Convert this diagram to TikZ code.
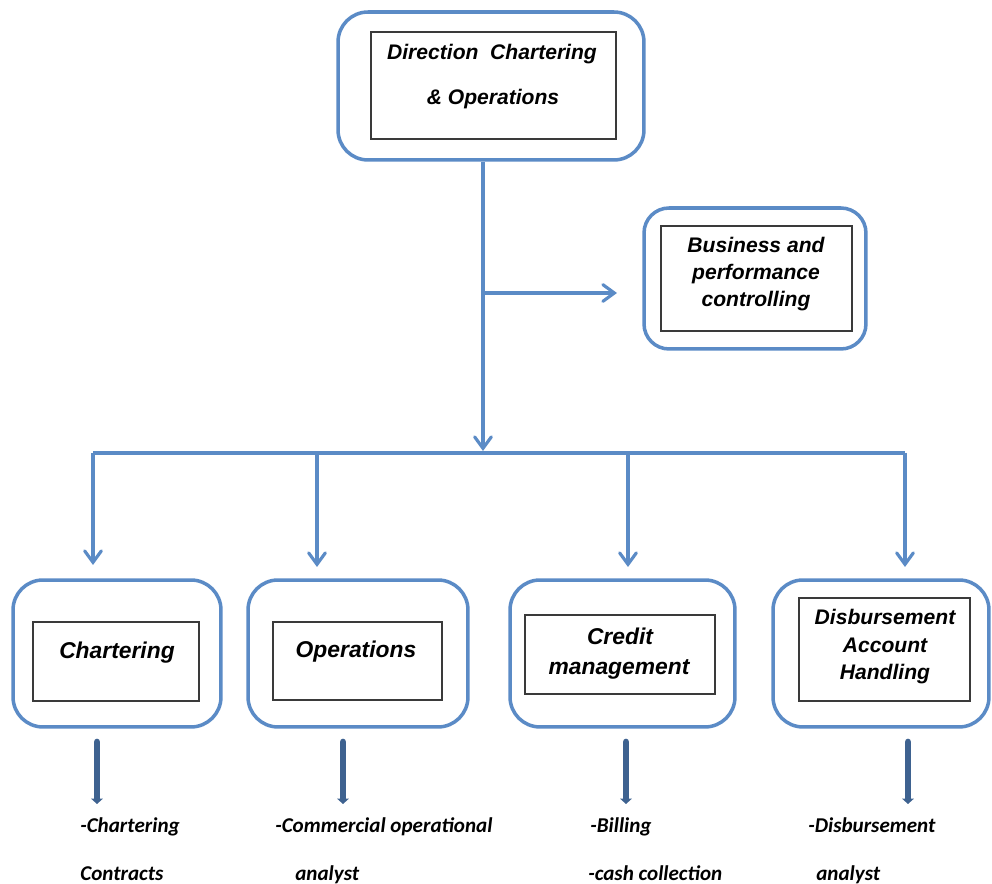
\documentclass[tikz,border=0pt]{standalone}
\usepackage{fontspec}
\setmainfont{Liberation Sans}
\newfontfamily\notefont{Carlito}
\usetikzlibrary{arrows.meta,shadows}
\definecolor{boxblue}{HTML}{5B8BC6}
\definecolor{darkarrow}{HTML}{3E6290}
\definecolor{innerline}{HTML}{3A3A3A}
\tikzset{
  outerbox/.style={draw=boxblue, line width=2pt, rounded corners=0.6cm, inner sep=0pt, fill=white},
  innerbox/.style={draw=innerline, line width=0.8pt, fill=white, inner sep=0pt,
     drop shadow={shadow xshift=0.8pt, shadow yshift=-0.8pt, fill=gray, opacity=0.45}},
  boxtxt/.style={anchor=base, inner sep=0pt, font=\fontsize{12}{14}\selectfont\bfseries\itshape},
  bigtxt/.style={anchor=base, inner sep=0pt, font=\fontsize{13}{15}\selectfont\bfseries\itshape},
  notetxt/.style={anchor=base west, inner sep=0pt, font=\notefont\fontsize{12}{14}\selectfont\bfseries\itshape},
  conn/.style={draw=boxblue, line width=1.8pt},
  connarrow/.style={conn, -{Straight Barb[length=6.5pt,width=9.5pt,line cap=round]}},
  thickarrow/.style={draw=darkarrow, line width=3.8pt, line cap=round, -{Triangle[length=3pt,width=6.5pt]}}
}
\begin{document}
\begin{tikzpicture}[x=0.02cm, y=-0.02cm]
\useasboundingbox (0,0) rectangle (992,884);

% top box
\node[outerbox, minimum width=6.12cm, minimum height=2.96cm] (top) at (491,86) {};
\node[innerbox, minimum width=4.9cm, minimum height=2.14cm] (topin) at (493.5,85.5) {};
\node[boxtxt] (toptxt1) at (492,60) {Direction\ \ Chartering};
\node[boxtxt] (toptxt2) at (493,105) {\& Operations};

% business box
\node[outerbox, minimum width=4.44cm, minimum height=2.82cm, rounded corners=0.5cm] (bus) at (755,278.5) {};
\node[innerbox, minimum width=3.82cm, minimum height=2.1cm] (busin) at (756.5,278.5) {};
\node[boxtxt] (bustxt1) at (756,253) {Business and};
\node[boxtxt] (bustxt2) at (756,280) {performance};
\node[boxtxt] (bustxt3) at (756,307) {controlling};

% bottom boxes
\node[outerbox, minimum width=4.16cm, minimum height=2.94cm] (chart) at (117,653.5) {};
\node[innerbox, minimum width=3.32cm, minimum height=1.58cm] (chartin) at (116,661.5) {};
\node[bigtxt] (charttxt) at (117,659) {Chartering};

\node[outerbox, minimum width=4.4cm, minimum height=2.94cm] (ops) at (358,653.5) {};
\node[innerbox, minimum width=3.38cm, minimum height=1.56cm] (opsin) at (357.5,661) {};
\node[bigtxt] (opstxt) at (356,658) {Operations};

\node[outerbox, minimum width=4.5cm, minimum height=2.94cm] (cred) at (622.5,653.5) {};
\node[innerbox, minimum width=3.8cm, minimum height=1.58cm] (credin) at (620,654.5) {};
\node[bigtxt] (credtxt1) at (620,645) {Credit};
\node[bigtxt] (credtxt2) at (619,675) {management};

\node[outerbox, minimum width=4.32cm, minimum height=2.94cm] (disb) at (881,653.5) {};
\node[innerbox, minimum width=3.42cm, minimum height=2.06cm] (disbin) at (884.5,649.5) {};
\node[boxtxt] (disbtxt1) at (885,625) {Disbursement};
\node[boxtxt] (disbtxt2) at (885,653) {Account};
\node[boxtxt] (disbtxt3) at (885,680) {Handling};

% connectors
\coordinate (bustop) at (483,451);
\coordinate (brend) at (617,293);
\coordinate (b1) at (93,453);
\coordinate (b2) at (317,453);
\coordinate (b3) at (628,453);
\coordinate (b4) at (905,453);
\coordinate (e1) at (93,565);
\coordinate (e2) at (317,567);
\coordinate (e3) at (628,567);
\coordinate (e4) at (905,567);

\draw[connarrow] (top.south -| bustop) -- (bustop);
\draw[connarrow] (bustop |- brend) -- (brend);
\draw[conn] (b1) -- (b4);
\draw[connarrow] (b1) -- (e1);
\draw[connarrow] (b2) -- (e2);
\draw[connarrow] (b3) -- (e3);
\draw[connarrow] (b4) -- (e4);

% thick arrows
\coordinate (s1) at (97,742);  \coordinate (f1) at (97,804);
\coordinate (s2) at (343,742); \coordinate (f2) at (343,804);
\coordinate (s3) at (626,742); \coordinate (f3) at (626,804);
\coordinate (s4) at (908,742); \coordinate (f4) at (908,804);
\draw[thickarrow] (s1) -- (f1);
\draw[thickarrow] (s2) -- (f2);
\draw[thickarrow] (s3) -- (f3);
\draw[thickarrow] (s4) -- (f4);

% notes
\node[notetxt] (n1a) at (80,833) {-Chartering};
\node[notetxt] (n1b) at (80,881) {Contracts};
\node[notetxt] (n2a) at (275,833) {-Commercial operational};
\node[notetxt] (n2b) at (295,881) {analyst};
\node[notetxt] (n3a) at (590,833) {-Billing};
\node[notetxt] (n3b) at (588,881) {-cash collection};
\node[notetxt] (n4a) at (808,833) {-Disbursement};
\node[notetxt] (n4b) at (816,881) {analyst};
\end{tikzpicture}
\end{document}
